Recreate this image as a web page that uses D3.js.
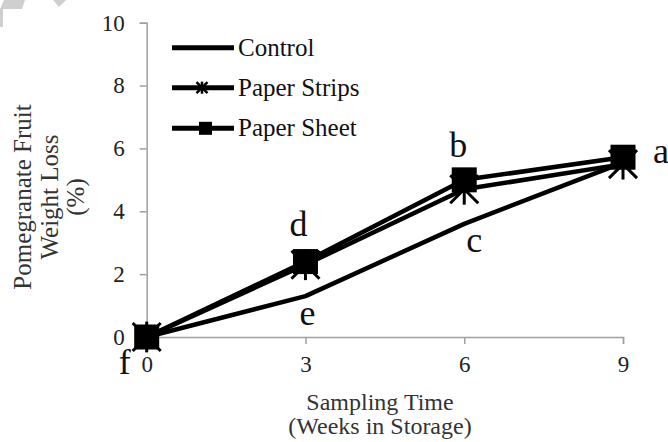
<!DOCTYPE html>
<html>
<head>
<meta charset="utf-8">
<script src="https://cdn.jsdelivr.net/npm/d3@7"></script>
<style>
  body { margin: 0; background: #fff; }
  text { font-family: "Liberation Serif", "Times New Roman", serif; }
</style>
</head>
<body>
<div id="chart"></div>
<script>
const width = 668,
  height = 442;

// data
const weeks = [0, 3, 6, 9];
const control = [0, 1.3, 3.6, 5.55];
const paperStrips = [0, 2.3, 4.7, 5.5];
const paperSheet = [0, 2.4, 5.0, 5.72];
const xTicks = [0, 3, 6, 9];
const yTicks = [0, 2, 4, 6, 8, 10];
const seriesNames = ["Control", "Paper Strips", "Paper Sheet"];
// significance letters: [letter, week, value, dx, dy, anchor]
const letters = [
  ["f", 0, 0, -22, 37, "middle"],
  ["e", 3, 1.3, 2, 29, "middle"],
  ["d", 3, 2.4, -7, -26, "middle"],
  ["c", 6, 3.6, 10, 28, "middle"],
  ["b", 6, 5.0, -6, -23, "middle"],
  ["a", 9, 5.72, 30, 6, "start"],
];

const x = d3.scaleLinear().domain([0, 9]).range([146.7, 623]);
const y = d3.scaleLinear().domain([0, 10]).range([337, 22.7]);

const svg = d3
  .select("#chart")
  .append("svg")
  .attr("width", width)
  .attr("height", height);

// faint grey marks in the top-left corner of the scan
svg
  .append("polygon")
  .attr("points", "4,0 25,0 22,9 3,9 3,27 0,27 0,9")
  .attr("fill", "#cfcfcf");
svg
  .append("polygon")
  .attr("points", "53,0 66,0 59,7")
  .attr("fill", "#cfcfcf");

// axes
const xAxis = svg
  .append("g")
  .attr("transform", `translate(0,${y(0)})`)
  .call(d3.axisBottom(x).tickValues(xTicks).tickSizeOuter(0).tickSize(7).tickPadding(12));
const yAxis = svg
  .append("g")
  .attr("transform", `translate(${x(0)},0)`)
  .call(d3.axisLeft(y).tickValues(yTicks).tickSizeOuter(0).tickSize(7).tickPadding(15));

[xAxis, yAxis].forEach((g) => {
  g.select(".domain").attr("stroke", "#a0a0a0").attr("stroke-width", 1.5);
  g.selectAll(".tick line").attr("stroke", "#a0a0a0").attr("stroke-width", 1.5);
  g.selectAll(".tick text")
    .attr("fill", "#222")
    .style("font-size", "23px")
    .style("font-family", "'Liberation Serif', serif");
});

// axis titles
svg
  .append("text")
  .attr("x", 380)
  .attr("text-anchor", "middle")
  .attr("fill", "#333")
  .style("font-size", "24px")
  .selectAll("tspan")
  .data(["Sampling Time", "(Weeks in Storage)"])
  .enter()
  .append("tspan")
  .attr("x", 380)
  .attr("y", (d, i) => 410 + i * 24)
  .text((d) => d);

svg
  .append("text")
  .attr("transform", "translate(0,197) rotate(-90)")
  .attr("text-anchor", "middle")
  .attr("fill", "#333")
  .style("font-size", "25px")
  .selectAll("tspan")
  .data(["Pomegranate Fruit", "Weight Loss", "(%)"])
  .enter()
  .append("tspan")
  .attr("x", 0)
  .attr("y", (d, i) => 31 + i * 26.5)
  .text((d) => d);

// lines
const line = d3
  .line()
  .x((d) => x(d[0]))
  .y((d) => y(d[1]));

const series = [control, paperStrips, paperSheet].map((vals) =>
  weeks.map((w, i) => [w, vals[i]])
);

series.forEach((pts) => {
  svg
    .append("path")
    .datum(pts)
    .attr("d", line)
    .attr("fill", "none")
    .attr("stroke", "#000")
    .attr("stroke-width", 4.5)
    .attr("stroke-linejoin", "round");
});

function star(g, cx, cy, r, sw) {
  const s = g.append("g").attr("stroke", "#000").attr("stroke-width", sw);
  s.append("line").attr("x1", cx - r).attr("y1", cy - r).attr("x2", cx + r).attr("y2", cy + r);
  s.append("line").attr("x1", cx - r).attr("y1", cy + r).attr("x2", cx + r).attr("y2", cy - r);
  s.append("line").attr("x1", cx).attr("y1", cy - r * 1.1).attr("x2", cx).attr("y2", cy + r * 1.1);
}

// star markers for paper strips
series[1].forEach((d) => star(svg, x(d[0]), y(d[1]), 14, 3));

// square markers for paper sheet
svg
  .selectAll(".sq")
  .data(series[2])
  .enter()
  .append("rect")
  .attr("x", (d) => x(d[0]) - 12.5)
  .attr("y", (d) => y(d[1]) - 12.5)
  .attr("width", 25)
  .attr("height", 25)
  .attr("fill", "#000");

// letters
svg
  .selectAll(".letter")
  .data(letters)
  .enter()
  .append("text")
  .attr("x", (d) => x(d[1]) + d[3])
  .attr("y", (d) => y(d[2]) + d[4])
  .attr("text-anchor", (d) => d[5])
  .attr("fill", "#111")
  .style("font-size", "36px")
  .text((d) => d[0]);

// legend
const legend = svg.append("g");
const legendY = [47.7, 87.7, 128.3];
seriesNames.forEach((name, i) => {
  const ly = legendY[i];
  legend
    .append("line")
    .attr("x1", 172)
    .attr("x2", 234)
    .attr("y1", ly)
    .attr("y2", ly)
    .attr("stroke", "#000")
    .attr("stroke-width", 5);
  if (i === 1) star(legend, 202, ly, 5.5, 2.5);
  if (i === 2)
    legend
      .append("rect")
      .attr("x", 199)
      .attr("y", ly - 6.5)
      .attr("width", 13)
      .attr("height", 13)
      .attr("fill", "#000");
  legend
    .append("text")
    .attr("x", 238)
    .attr("y", ly + 8)
    .attr("fill", "#111")
    .style("font-size", "25px")
    .text(name);
});
</script>
</body>
</html>
